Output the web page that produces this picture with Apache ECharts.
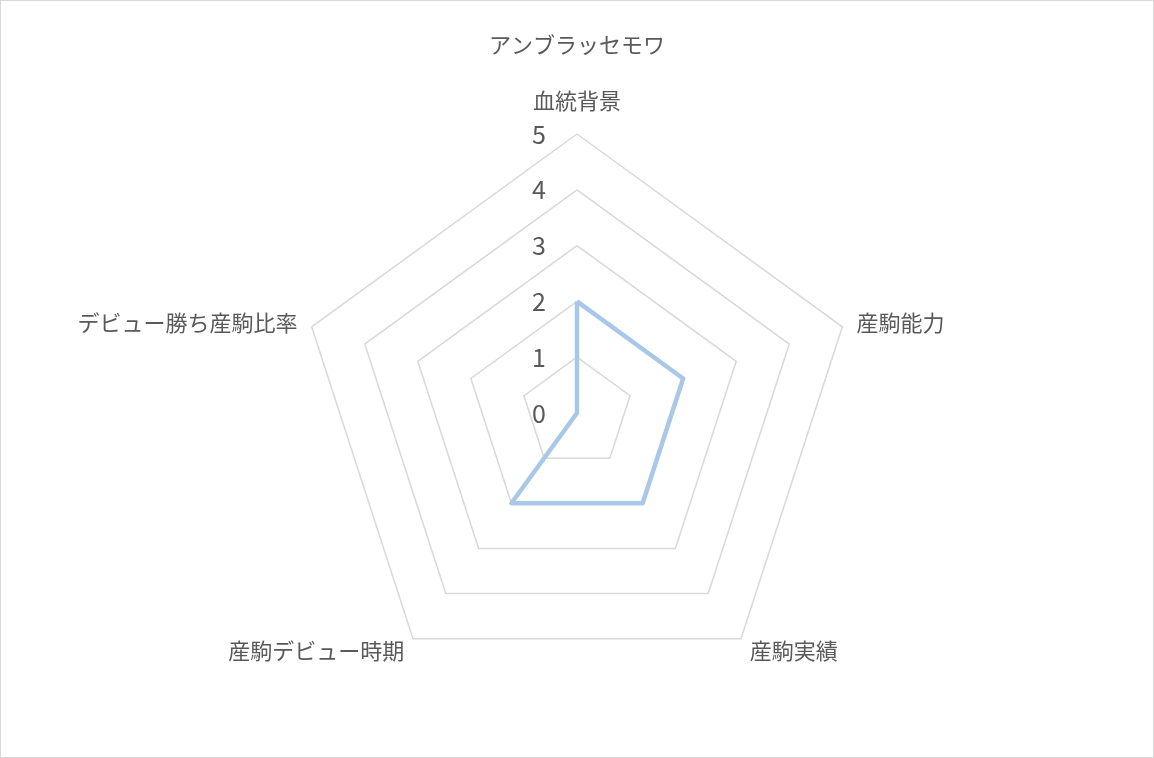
<!DOCTYPE html>
<html><head><meta charset="utf-8">
<script src="https://cdn.jsdelivr.net/npm/echarts@6/dist/echarts.min.js"></script>
<style>
html,body{margin:0;padding:0;background:#fff;}
#c{width:1152px;height:756px;border:1px solid #d9d9d9;}
</style></head>
<body><div id="c"></div>
<script>
const title = 'アンブラッセモワ';
// listed clockwise from the top, as in the reference
const indicators = ['血統背景', '産駒能力', '産駒実績', '産駒デビュー時期', 'デビュー勝ち産駒比率'];
const values = [2, 2, 2, 2, 0];
const maxValue = 5;

// ECharts radar runs counter-clockwise, so keep the first one and reverse the rest
const order = [0].concat(indicators.map((_, i) => i).slice(1).reverse());

const chart = echarts.init(document.getElementById('c'));
const font = '"Noto Sans CJK JP", "Noto Sans", sans-serif';
chart.setOption({
  backgroundColor: '#fff',
  title: {
    text: title, left: 'center', top: 28,
    textStyle: {fontFamily: font, fontSize: 22, fontWeight: 'normal', color: '#595959'}
  },
  radar: {
    center: [576, 412],
    radius: 279,
    startAngle: 90,
    shape: 'polygon',
    splitNumber: 5,
    nameGap: 15,
    axisName: {color: '#595959', fontSize: 22, fontFamily: font},
    splitLine: {lineStyle: {color: '#d9d9d9', width: 1.5}},
    splitArea: {show: false},
    axisLine: {show: false},
    axisTick: {show: false},
    axisLabel: {show: true, color: '#595959', fontSize: 25, fontFamily: font, margin: 31},
    indicator: order.map((k, i) => ({
      name: indicators[k], min: 0, max: maxValue,
      nameGap: i === 0 ? 22 : 15,
      axisLabel: {show: i === 0}
    }))
  },
  series: [{
    type: 'radar',
    symbol: 'none',
    lineStyle: {color: '#a9c8e8', width: 4.5},
    itemStyle: {color: '#a9c8e8'},
    data: [{value: order.map(k => values[k]), name: title}]
  }]
});
</script></body></html>
